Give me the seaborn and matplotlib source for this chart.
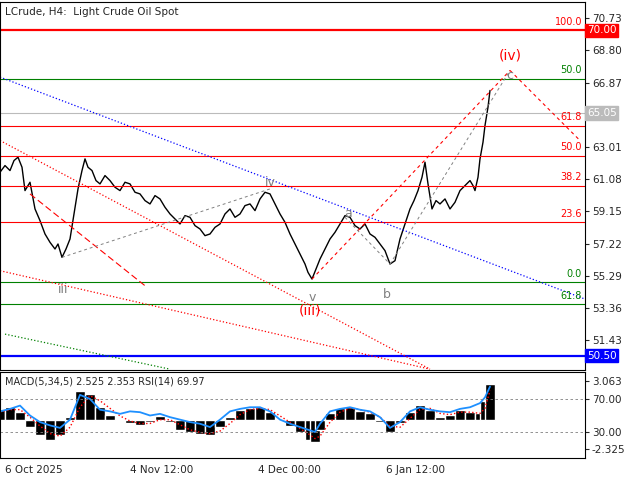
import matplotlib
matplotlib.use("Agg")
import matplotlib.pyplot as plt
import seaborn as sns
import pandas as pd
import numpy as np

sns.set_style("white")
plt.rcParams['font.family'] = ['DejaVu Sans']

# bar positions and prices
bar_x = [0,5,10,14,18,22,25,30,35,40,45,50,55,58,62,66,70,74,78,82,85,88,92,96,100,105,110,115,120,125,130,135,140,145,150,155,160,165,170,175,180,185,190,195,200,205,210,215,220,225,230,235,240,245,250,255,260,265,270,275,280,285,290,295,300,305,308,312,316,320,325,330,335,340,345,350,355,360,365,370,375,380,385,390,395,400,405,410,414,418,422,425,428,432,436,440,445,450,455,460,465,470,473,475,478,480,483,485,488,490]
price = [61.5,61.9,61.6,62.2,62.4,61.8,60.4,60.9,59.3,58.6,57.8,57.3,56.9,57.2,56.4,56.9,57.5,59.0,60.5,61.6,62.3,61.8,61.6,61.0,60.8,61.3,61.0,60.6,60.4,60.9,60.8,60.3,60.2,59.8,59.6,60.1,59.9,59.4,59.0,58.7,58.4,58.9,58.8,58.3,58.1,57.7,57.8,58.2,58.4,59.0,59.3,58.8,59.0,59.5,59.6,59.2,59.9,60.3,60.2,59.6,59.0,58.5,57.8,57.2,56.6,56.0,55.5,55.1,55.7,56.3,56.9,57.5,57.9,58.4,58.9,58.8,58.3,58.1,58.4,57.8,57.6,57.2,56.8,56.0,56.2,57.5,58.4,59.3,59.8,60.4,61.2,62.1,60.8,59.3,59.8,59.6,59.9,59.3,59.7,60.4,60.7,61.0,60.7,60.4,61.2,62.3,63.3,64.3,65.4,66.4]

macd_x = [0,10,20,30,40,50,60,70,80,90,100,110,120,130,140,150,160,170,180,190,200,210,220,230,240,250,260,270,280,290,300,310,315,320,330,340,350,360,370,380,390,400,410,420,430,440,450,460,470,480,485,490]
macd = [0.8,1.0,0.6,-0.6,-1.2,-1.6,-1.2,0.2,2.3,2.0,1.0,0.4,0.0,-0.3,-0.4,-0.2,0.3,-0.2,-0.8,-1.0,-1.1,-1.2,-0.6,0.2,0.8,0.9,1.0,0.6,0.0,-0.5,-1.0,-1.6,-1.8,-0.8,0.5,0.9,1.0,0.7,0.5,-0.2,-1.0,-0.3,0.6,1.2,0.8,0.2,0.4,0.8,0.6,0.5,1.5,2.8]
signal = [0.6,0.8,0.8,0.2,-0.5,-1.1,-1.3,-0.6,1.0,1.9,1.5,0.9,0.3,-0.1,-0.3,-0.3,0.0,0.0,-0.4,-0.8,-1.0,-1.1,-0.9,-0.3,0.4,0.8,0.9,0.8,0.3,-0.2,-0.7,-1.2,-1.5,-1.3,-0.2,0.6,0.9,0.8,0.6,0.2,-0.5,-0.6,0.1,0.8,0.9,0.5,0.4,0.6,0.6,0.5,0.9,2.3]
rsi = [55,58,62,50,42,38,35,45,75,70,57,55,52,55,54,50,52,48,45,42,40,36,45,55,58,60,60,55,45,40,36,32,30,40,55,58,60,57,55,48,35,42,55,60,57,55,54,58,60,65,72,85]

fib_levels = [70.0, 67.1, 64.3, 62.5, 60.7, 58.5, 54.9, 53.6]
fib_labels = ["100.0", "50.0", "61.8", "50.0", "38.2", "23.6", "0.0", "61.8"]
fib_colors = ["red", "green", "red", "red", "red", "red", "green", "green"]
price_ticks = [70.73, 68.80, 66.87, 63.01, 61.08, 59.15, 57.22, 55.29, 53.36, 51.43]
date_pos = [5, 130, 258, 386]
date_labels = ["6 Oct 2025", "4 Nov 12:00", "4 Dec 00:00", "6 Jan 12:00"]

fig = plt.figure(figsize=(6.4, 4.8), dpi=100)
ax = fig.add_axes([0, 110/480, 585/640, 368/480])
ax2 = fig.add_axes([0, 22/480, 585/640, 86/480])

XMAX = 585
ax.set_xlim(0, XMAX); ax.set_ylim(49.65, 71.7)
sns.lineplot(x=bar_x, y=price, ax=ax, color="black", lw=1.0)

for lv, lb, c in zip(fib_levels, fib_labels, fib_colors):
    ax.axhline(lv, color=c, lw=1.6 if lv == 70.0 else 0.8)
    ax.text(582, lv + 0.2, lb, color=c, fontsize=7, ha="right", va="bottom")
ax.axhline(65.05, color="#bbbbbb", lw=0.8)
ax.axhline(50.50, color="blue", lw=1.6)

def ln(p0, p1, **kw):
    ax.plot([p0[0], p1[0]], [p0[1], p1[1]], **kw)
ln((0, 67.2), (585, 53.9), color="blue", ls=":", lw=0.9)
ln((0, 63.4), (430, 49.7), color="red", ls=":", lw=0.9)
ln((0, 55.6), (430, 49.7), color="red", ls=":", lw=0.9)
ln((30, 60.2), (145, 54.7), color="red", ls=(0, (6, 3)), lw=0.8)
ln((5, 51.8), (170, 49.7), color="green", ls=":", lw=0.9)
ln((62, 56.4), (270, 60.5), color="gray", ls=(0, (3, 3)), lw=0.7)
ln((312, 55.1), (510, 67.6), color="red", ls=(0, (3, 3)), lw=0.8)
ln((510, 67.6), (580, 63.4), color="red", ls=(0, (3, 3)), lw=0.8)
ln((390, 56.0), (510, 67.6), color="gray", ls=(0, (3, 3)), lw=0.7)
ln((345, 58.8), (390, 56.0), color="gray", ls=(0, (3, 3)), lw=0.7)

for t, x, y, c in [("iii", 63, 54.5, "gray"), ("iv", 270, 60.9, "gray"), ("v", 312, 54.0, "gray"),
                   ("a", 348, 59.0, "gray"), ("b", 387, 54.2, "gray"), ("c", 510, 67.3, "gray"),
                   ("(iii)", 310, 53.2, "red"), ("(iv)", 510, 68.5, "red")]:
    ax.text(x, y, t, color=c, fontsize=10 if c == "red" else 9, ha="center", va="center")

ax.text(5, 71.1, "LCrude, H4:  Light Crude Oil Spot", fontsize=7.5, va="center")

ax.yaxis.tick_right()
ax.set_yticks(price_ticks)
ax.set_yticklabels([f"{v:.2f}" for v in price_ticks], fontsize=7.5)
ax.tick_params(axis="y", length=3, pad=2)
ax.set_xticks([])
for v, c, tc in [(70.0, "red", "white"), (65.05, "#bbbbbb", "white"), (50.50, "blue", "white")]:
    ax.text(1.003, v, f"{v:.2f}", transform=ax.get_yaxis_transform(), fontsize=7.5, color=tc,
            va="center", ha="left", bbox=dict(boxstyle="square,pad=0.15", fc=c, ec=c))
for s in ax.spines.values():
    s.set_color("black"); s.set_linewidth(0.8)

# indicator panel (RSI units; MACD scaled)
zero = 44.9; sc = 15.3
ax2.set_xlim(0, XMAX); ax2.set_ylim(-1.5, 102.7)
ax2.bar(macd_x, [m * sc for m in macd], bottom=zero, width=10, color="black")
ax2.plot(macd_x, [zero + s * sc for s in signal], color="red", ls=":", lw=1.0)
sns.lineplot(x=macd_x, y=rsi, ax=ax2, color="#1e90ff", lw=1.3)
ax2.axhline(70, color="gray", ls=(0, (3, 3)), lw=0.6)
ax2.axhline(30, color="gray", ls=(0, (3, 3)), lw=0.6)
ax2.yaxis.tick_right()
ax2.set_yticks([zero + 3.063 * sc, 70, 30, zero - 2.325 * sc])
ax2.set_yticklabels(["3.063", "70.00", "30.00", "-2.325"], fontsize=7.5)
ax2.tick_params(axis="y", length=3, pad=2)
ax2.set_xticks(date_pos)
ax2.set_xticklabels(date_labels, fontsize=7.5, ha="left")
ax2.tick_params(axis="x", length=3, pad=2)
ax2.text(5, 97, "MACD(5,34,5) 2.525 2.353 RSI(14) 69.97", fontsize=7, va="top")
for s in ax2.spines.values():
    s.set_color("black"); s.set_linewidth(0.8)
ax2.set_ylabel(""); ax.set_ylabel("")

fig.savefig("out.png", dpi=100)
